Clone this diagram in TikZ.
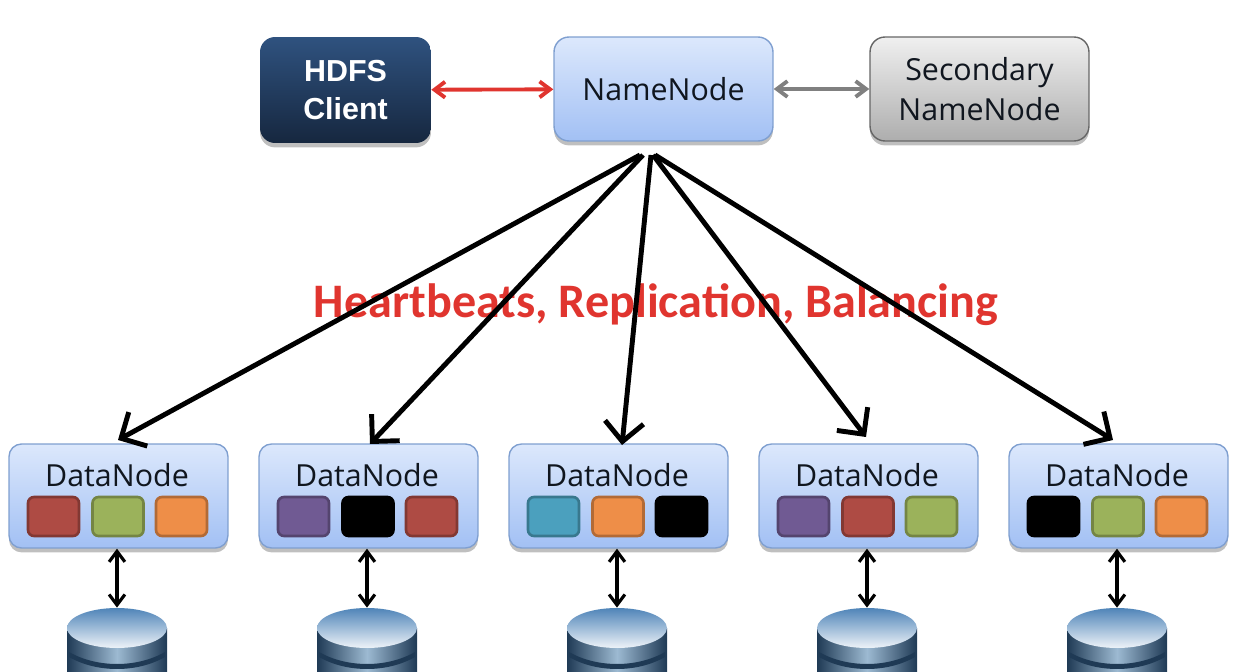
\documentclass[tikz,border=0pt]{standalone}
\usepackage{fontspec}
\setmainfont{Open Sans}
\newfontfamily\labelfont{Carlito}
\newfontfamily\clientfont{Liberation Sans}
\usetikzlibrary{arrows.meta,calc,shadows,shapes.geometric}
\definecolor{BoxTop}{HTML}{DCE8FC}
\definecolor{BoxBottom}{HTML}{A2C0F4}
\definecolor{BoxEdge}{HTML}{7F9FD0}
\definecolor{Ink}{HTML}{10161F}
\definecolor{AlertRed}{HTML}{E0352F}
\definecolor{BlockRed}{HTML}{AE4B44}
\definecolor{BlockGreen}{HTML}{9BB25B}
\definecolor{BlockOrange}{HTML}{EE8E48}
\definecolor{BlockPurple}{HTML}{705A93}
\definecolor{BlockTeal}{HTML}{4BA0BE}
\definecolor{HdfsTop}{HTML}{2F527F}
\definecolor{HdfsBottom}{HTML}{16273F}
\definecolor{DiskTop}{HTML}{4F84B8}
\definecolor{DiskDark}{HTML}{1F3A55}
\definecolor{DiskMid}{HTML}{9DBAD2}

\begin{document}
\begin{tikzpicture}[x=0.02cm,y=-0.02cm,font=\fontsize{17.3}{23}\selectfont,
    namebox/.style={rounded corners=0.3cm,draw=BoxEdge,line width=0.8pt,top color=BoxTop,bottom color=BoxBottom,
                    minimum width=4.38cm,minimum height=2.08cm,align=center,text=Ink,
                    drop shadow={shadow xshift=0pt,shadow yshift=-2.5pt,opacity=0.5}},
    databox/.style={namebox,rounded corners=0.25cm},
    clientbox/.style={rounded corners=0.3cm,draw=none,top color=HdfsTop,bottom color=HdfsBottom,
                      minimum width=3.42cm,minimum height=2.12cm,align=center,text=white,
                      font=\clientfont\bfseries\fontsize{17.3}{21.5}\selectfont,
                      drop shadow={shadow xshift=0pt,shadow yshift=-2.5pt,opacity=0.5}},
    backupbox/.style={namebox,draw=black!60,top color=black!6,bottom color=black!32},
    block/.style={rounded corners=0.12cm,line width=1.5pt,minimum width=1.02cm,minimum height=0.78cm,
                  inner sep=0pt},
    link/.style={{Straight Barb[length=6pt,width=9pt]}-{Straight Barb[length=6pt,width=9pt]},line width=1.8pt},
    beat/.style={-{Straight Barb[length=11pt,width=22pt]},line width=2.8pt,black},
    disk/.style={ellipse,minimum width=2cm,minimum height=0.8cm,inner sep=0pt,
                 top color=DiskTop,bottom color=white!90!DiskTop},
    diskside/.style={left color=DiskDark,right color=DiskDark,middle color=DiskMid}]
  \useasboundingbox (0,0) rectangle (1238,672);

  \node[clientbox,text depth=0pt,yshift=-0.04cm] (client) at (345.5,88) {HDFS\\Client};
  \node[namebox] (name) at (663.5,89) {NameNode};
  \node[backupbox] (second) at (979.5,89) {Secondary\\NameNode};
  \draw[link,AlertRed,line width=2.2pt] (client) -- (name);
  \draw[link,black!50,line width=2.2pt] (name) -- (second);

  \node[font=\labelfont\bfseries\fontsize{27.4}{32}\selectfont,text=AlertRed] (label) at (656,305)
    {Heartbeats, Replication, Balancing};

  \foreach \d/\x/\hubx/\tipx/\tipy/\colA/\colB/\colC in {%
      1/118.5/640/118/440/BlockRed/BlockGreen/BlockOrange,
      2/368.5/643/370/444/BlockPurple/black/BlockRed,
      3/618.5/651/622/445/BlockTeal/BlockOrange/black,
      4/868.5/653/866/437/BlockPurple/BlockRed/BlockGreen,
      5/1118.5/655/1113/440/black/BlockGreen/BlockOrange}{%
    \node[databox] (data\d) at (\x,496) {};
    \node[anchor=center,text=Ink] (title\d) at ({\x-1.5},475) {DataNode};
    \node[block,draw=\colA!75!black,fill=\colA] (blockA\d) at ({\x-65},516.5) {};
    \node[block,draw=\colB!75!black,fill=\colB] (blockB\d) at ({\x-0.5},516.5) {};
    \node[block,draw=\colC!75!black,fill=\colC] (blockC\d) at ({\x+63},516.5) {};
    \coordinate (hub\d) at (\hubx,155);
    \coordinate (tip\d) at (\tipx,\tipy);
    \draw[beat] (hub\d) -- (tip\d);

    % disk stack, cut by the page edge
    \begin{scope}
      \clip (0,0) rectangle (1238,672);
      \shade[diskside] ({\x-51.5},628) rectangle ({\x+48.5},672);
      \fill[DiskDark] ({\x-49.5},652) .. controls ({\x-21.5},668) and ({\x+18.5},668) .. ({\x+46.5},652)
        -- ({\x+46.5},657) .. controls ({\x+18.5},673) and ({\x-21.5},673) .. ({\x-49.5},657) -- cycle;
      \node[disk] (disk\d) at ({\x-1.5},628) {};
    \end{scope}
    \draw[link,black] (data\d.south -| disk\d.north) -- (disk\d.north);
  }
\end{tikzpicture}
\end{document}
